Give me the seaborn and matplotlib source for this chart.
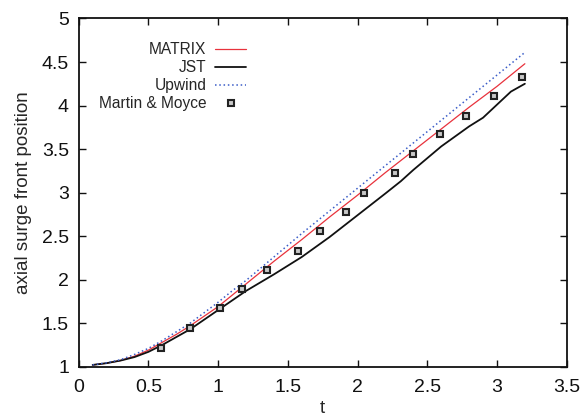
import numpy as np
import pandas as pd
import matplotlib
matplotlib.use("Agg")
import matplotlib.pyplot as plt
import seaborn as sns

# ---- data ----
t_matrix = [0.1, 0.2, 0.3, 0.4, 0.5, 0.6, 0.7, 0.8, 0.9, 1.0, 1.1, 1.2, 1.4, 1.6, 1.8,
            2.0, 2.2, 2.4, 2.6, 2.8, 3.0, 3.2]
y_matrix = [1.02, 1.04, 1.07, 1.12, 1.19, 1.28, 1.37, 1.47, 1.58, 1.69, 1.82, 1.95, 2.21,
            2.46, 2.72, 2.97, 3.23, 3.48, 3.73, 3.98, 4.22, 4.48]

t_jst = [0.1, 0.2, 0.3, 0.4, 0.5, 0.6, 0.7, 0.8, 0.9, 1.0, 1.1, 1.2, 1.4, 1.6, 1.8, 2.0,
         2.2, 2.31, 2.4, 2.6, 2.8, 2.9, 3.0, 3.1, 3.2]
y_jst = [1.02, 1.04, 1.07, 1.11, 1.17, 1.25, 1.34, 1.43, 1.54, 1.65, 1.76, 1.87, 2.06, 2.26,
         2.49, 2.74, 2.99, 3.13, 3.26, 3.53, 3.76, 3.86, 4.01, 4.16, 4.25]

t_upwind = [0.1, 0.2, 0.3, 0.4, 0.5, 0.6, 0.7, 0.8, 0.9, 1.0, 1.1, 1.2, 1.4, 1.6, 1.8,
            2.0, 2.2, 2.4, 2.6, 2.8, 3.0, 3.2]
y_upwind = [1.02, 1.045, 1.08, 1.14, 1.21, 1.30, 1.40, 1.50, 1.62, 1.74, 1.87, 1.99, 2.26,
            2.53, 2.79, 3.05, 3.31, 3.57, 3.83, 4.09, 4.35, 4.61]

t_exp = [0.59, 0.80, 1.01, 1.17, 1.35, 1.57, 1.73, 1.92, 2.045, 2.27, 2.40, 2.59, 2.775,
         2.98, 3.18]
y_exp = [1.22, 1.44, 1.67, 1.89, 2.11, 2.33, 2.56, 2.78, 3.00, 3.22, 3.44, 3.67, 3.885,
         4.105, 4.325]

x_ticks = [0, 0.5, 1, 1.5, 2, 2.5, 3, 3.5]
y_ticks = [1, 1.5, 2, 2.5, 3, 3.5, 4, 4.5, 5]

sns.set_theme(style="ticks")
plt.rcParams['font.family'] = ['Liberation Sans', 'DejaVu Sans']

fig = plt.figure(figsize=(5.82, 4.2), dpi=100)
ax = fig.add_axes([0.1352, 0.127, 0.8385, 0.829])

df_m = pd.DataFrame({"t": t_matrix, "y": y_matrix})
df_j = pd.DataFrame({"t": t_jst, "y": y_jst})
df_u = pd.DataFrame({"t": t_upwind, "y": y_upwind})
df_e = pd.DataFrame({"t": t_exp, "y": y_exp})

sns.lineplot(data=df_m, x="t", y="y", ax=ax, color="#e8323c", linewidth=0.9,
             label="MATRIX", sort=False)
sns.lineplot(data=df_j, x="t", y="y", ax=ax, color="#111111", linewidth=1.3,
             label="JST", sort=False)
sns.lineplot(data=df_u, x="t", y="y", ax=ax, color="#3a5cc8", linewidth=1.1,
             linestyle=(0, (1, 1.8)), label="Upwind", sort=False)
ax.plot(df_e["t"], df_e["y"], linestyle="none", marker="s", markersize=4.2,
        markerfacecolor="#c8c8c8", markeredgecolor="#222222", markeredgewidth=1.5,
        label="Martin & Moyce")

ax.set_xlim(0, 3.5)
ax.set_ylim(1, 5)
ax.set_xticks(x_ticks)
ax.set_xticklabels([f"{v:g}" for v in x_ticks])
ax.set_yticks(y_ticks)
ax.set_yticklabels([f"{v:g}" for v in y_ticks])
ax.tick_params(direction="in", length=5, width=1.0, top=True, right=True,
               labelsize=14, colors="#111111")
ax.tick_params(axis="x", pad=9)
ax.tick_params(axis="y", pad=7)
for s in ax.spines.values():
    s.set_visible(True)
    s.set_linewidth(1.3)
    s.set_color("#111111")

ax.set_xlabel("t", fontsize=13.5, labelpad=3)
ax.set_ylabel("axial surge front position", fontsize=13.5, labelpad=7)

leg = ax.legend(loc="upper right", bbox_to_anchor=(0.343, 0.932), frameon=False,
                markerfirst=False, fontsize=11.2, handlelength=2.0, handletextpad=0.55,
                labelspacing=0.2, borderpad=0, borderaxespad=0)

fig.savefig("out.png", dpi=100)
